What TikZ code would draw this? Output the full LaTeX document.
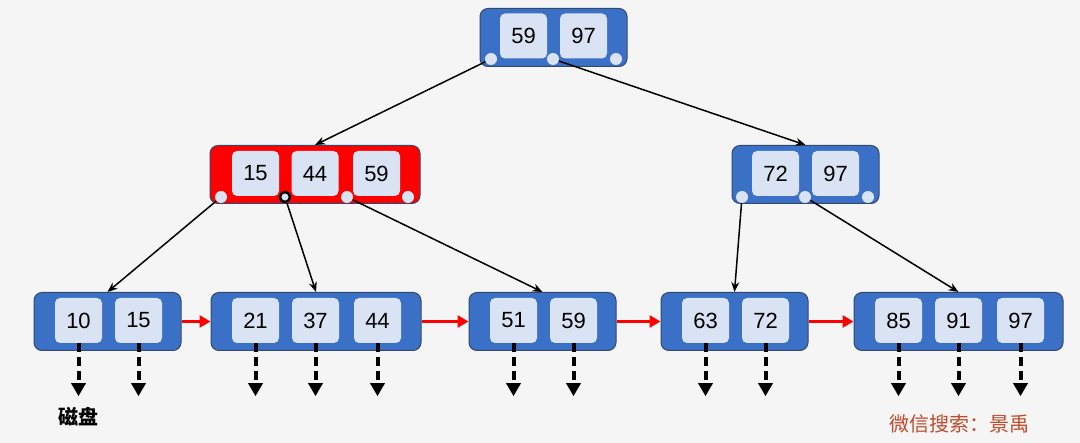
\documentclass[tikz,border=0pt]{standalone}
\usepackage{fontspec}
\setmainfont{Liberation Sans}
\newfontfamily\cjk{Noto Sans CJK SC}
\usetikzlibrary{arrows.meta}

\definecolor{nodeblue}{HTML}{3A70C6}
\definecolor{nodeedge}{HTML}{34496A}
\definecolor{keyfill}{HTML}{DAE3F3}
\definecolor{bgray}{HTML}{F5F5F5}
\definecolor{markred}{HTML}{C04A2A}

\begin{document}
\begin{tikzpicture}[
    x=1pt, y=-1pt,
    >={Stealth[length=10pt, width=8pt]},
    block/.style={draw=nodeedge, line width=1pt, fill=nodeblue, rounded corners=8pt, minimum height=58pt, inner sep=0pt},
    key/.style={fill=keyfill, rounded corners=5pt, minimum width=47pt, minimum height=45pt, inner sep=0pt, font=\fontsize{22}{26}\selectfont},
    ptr/.style={circle, fill=keyfill, minimum size=12pt, inner sep=0pt},
    link/.style={->, line width=1.5pt},
    nextleaf/.style={-{Triangle[length=11pt, width=12pt]}, red, line width=3pt},
    disk/.style={-{Triangle[length=13pt, width=14pt]}, line width=4pt, dash pattern=on 9pt off 5pt}
  ]

  % Hintergrund
  \fill[bgray] (0,0) rectangle (1080,443);

  % Knoten
  \node[block, minimum width=147pt] (root) at (553.5,37.5) {};
  \node[block, minimum width=210pt, fill=red] (mid) at (315,174.5) {};
  \node[block, minimum width=147pt] (right) at (805.5,174.5) {};
  \node[block, minimum width=147pt] (leafa) at (107.5,321.5) {};
  \node[block, minimum width=210pt] (leafb) at (316,321.5) {};
  \node[block, minimum width=147pt] (leafc) at (542.5,321.5) {};
  \node[block, minimum width=147pt] (leafd) at (734.5,321.5) {};
  \node[block, minimum width=209pt] (leafe) at (958.5,321.5) {};

  % Schluessel
  \foreach \x/\y/\k/\n in {523.5/36/59/ra, 583.5/36/97/rb,
      255.5/173.5/15/ma, 315/173.5/44/mb, 376.5/173.5/59/mc,
      775.5/173.5/72/na, 835.5/173.5/97/nb} {
    \node[key] (\n) at (\x,\y) {\k};
  }
  \foreach \x/\k/\n in {78.5/10/aa, 138.5/15/ab,
      255.5/21/ba, 315.5/37/bb, 377.5/44/bc,
      513.5/51/ca, 573.5/59/cb,
      705.5/63/da, 765.5/72/db,
      898.5/85/ea, 958.5/91/eb, 1020.5/97/ec} {
    \node[key] (\n) at (\x,320.5) {\k};
  }

  % Zeiger
  \node[ptr] (rp1) at (491,59) {};
  \node[ptr] (rp2) at (553,59) {};
  \node[ptr] (rp3) at (616,59) {};
  \node[ptr] (mp1) at (221,197) {};
  \node[ptr, draw=black, line width=2.5pt, minimum size=10pt] (mp2) at (285,197) {};
  \node[ptr] (mp3) at (347,197) {};
  \node[ptr] (mp4) at (408,197) {};
  \node[ptr] (np1) at (742,197) {};
  \node[ptr] (np2) at (805,197) {};
  \node[ptr] (np3) at (868,197) {};

  % Verweise
  \draw[link] (rp1) -- (mid.north);
  \draw[link] (rp2) -- (right.north);
  \draw[link] (mp1) -- (leafa.north);
  \draw[link] (mp2) -- (leafb.north);
  \draw[link] (mp3) -- (leafc.north);
  \draw[link] (np1) -- (leafd.north);
  \draw[link] (np2) -- (leafe.north);

  % Blattkette
  \draw[nextleaf] (leafa.east) -- (leafb.west);
  \draw[nextleaf] (leafb.east) -- (leafc.west);
  \draw[nextleaf] (leafc.east) -- (leafd.west);
  \draw[nextleaf] (leafd.east) -- (leafe.west);

  % Plattenzugriff
  \foreach \n in {aa, ab, ba, bb, bc, ca, cb, da, db, ea, eb, ec}
    \draw[disk] (\n.south) -- ++(0,53);

  \node[font=\cjk\bfseries\fontsize{20}{24}\selectfont] (disklabel) at (78,417) {磁盘};
  \node[font=\cjk\fontsize{20}{24}\selectfont, text=markred] (mark) at (959,424) {微信搜索：景禹};

\end{tikzpicture}
\end{document}
